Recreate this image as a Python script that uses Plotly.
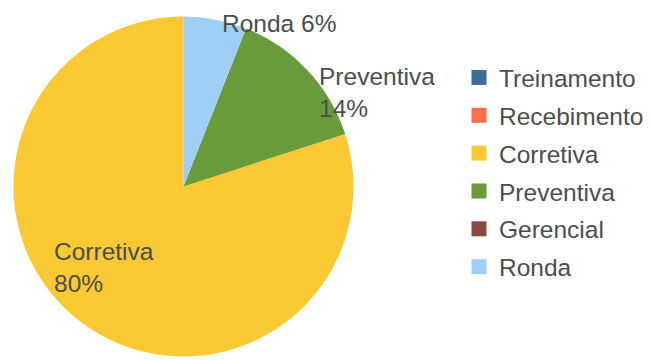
import plotly.graph_objects as go

# Service categories and their share of work orders
labels = ["Treinamento", "Recebimento", "Corretiva", "Preventiva", "Gerencial", "Ronda"]
values = [0, 0, 80, 14, 0, 6]
colors = ["#3d6c9c", "#f8704e", "#fac934", "#6a9b3a", "#8a4b3f", "#9ecff7"]

total = sum(values)
pct = {lab: round(v / total * 100) for lab, v in zip(labels, values)}

fig = go.Figure(
    go.Pie(
        labels=labels,
        values=values,
        sort=False,
        direction="counterclockwise",
        rotation=0,
        marker=dict(colors=colors, line=dict(width=0)),
        textinfo="none",
        hoverinfo="label+percent",
        showlegend=False,
        domain=dict(x=[13.5 / 650, 353.5 / 650], y=[1 - 356.5 / 360, 1 - 16.5 / 360]),
    )
)

# Legend entries: one square swatch per category, each in its own group
for lab, col in zip(labels, colors):
    fig.add_trace(
        go.Scatter(
            x=[None], y=[None], mode="markers", name=lab, legendgroup=lab,
            marker=dict(symbol="square", size=15, color=col, line=dict(width=0)),
            hoverinfo="skip",
        )
    )

label_font = dict(family="Liberation Sans, Arial, sans-serif", size=24.5, color="#4d4d4d")
# Slice labels, placed beside their slices
label_pos = {
    "Ronda": dict(x=220 / 650, y=1 - 24 / 360, text="Ronda {p}%"),
    "Preventiva": dict(x=317 / 650, y=1 - 93 / 360, text="Preventiva<br>{p}%"),
    "Corretiva": dict(x=52 / 650, y=1 - 267 / 360, text="Corretiva<br>{p}%"),
}
for lab, spec in label_pos.items():
    fig.add_annotation(
        x=spec["x"], y=spec["y"], xref="paper", yref="paper",
        text=spec["text"].format(p=pct[lab]),
        showarrow=False, xanchor="left", yanchor="middle", align="left",
        font=label_font,
    )

fig.update_layout(
    width=650, height=360,
    margin=dict(l=0, r=0, t=0, b=0, autoexpand=False),
    paper_bgcolor="white",
    plot_bgcolor="white",
    showlegend=True,
    xaxis=dict(visible=False),
    yaxis=dict(visible=False),
    legend=dict(
        x=459 / 650, y=1 - 55 / 360, xanchor="left", yanchor="top",
        font=dict(family="Liberation Sans, Arial, sans-serif", size=24.5, color="#4d4d4d"),
        bgcolor="rgba(0,0,0,0)",
        traceorder="grouped",
        tracegroupgap=3,
    ),
)

fig.write_html("out.html")
